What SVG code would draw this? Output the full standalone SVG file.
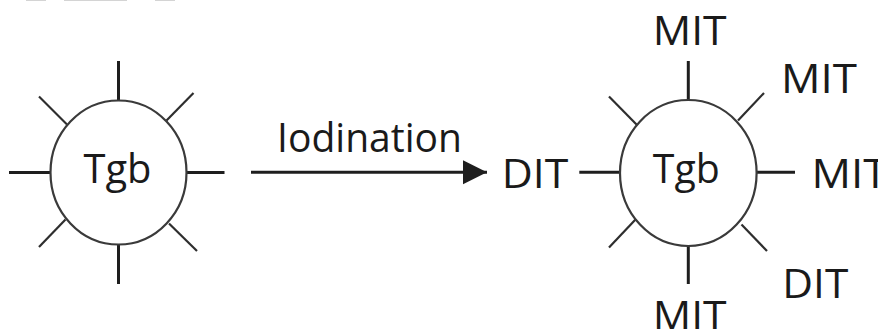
<svg xmlns="http://www.w3.org/2000/svg" width="878" height="329" viewBox="0 0 878 329">
  <style>
    .ring { fill: #ffffff; stroke: #3a3a3a; stroke-width: 2.2; }
    .spoke { stroke: #1e1e1e; stroke-width: 3; stroke-linecap: butt; }
    .diag { stroke: #2e2e2e; stroke-width: 2.2; stroke-linecap: butt; }
    .lbl { font-family: "Open Sans", "Liberation Sans", sans-serif; font-size: 41px; fill: #1a1a1a; }
    .edge { stroke: #1e1e1e; stroke-width: 3; fill: none; }
    .stub { fill: #d4d4d4; }
  </style>
  <defs>
    <marker id="head" markerUnits="userSpaceOnUse" markerWidth="26" markerHeight="26" viewBox="0 0 26 26" refX="24" refY="13" orient="auto">
      <path d="M0,1 L24,13 L0,25 Z" fill="#1e1e1e"/>
    </marker>
  </defs>

  <!-- clipped remnants along the top edge -->
  <rect class="stub" x="26" y="0" width="20" height="1"/>
  <rect class="stub" x="64" y="0" width="63" height="1"/>
  <rect class="stub" x="155" y="0" width="20" height="1"/>

  <!-- thyroglobulin before iodination -->
  <g id="tgb-plain">
    <line class="spoke" x1="118.5" y1="61" x2="118.5" y2="101"/>
    <line class="spoke" x1="118.5" y1="244" x2="118.5" y2="284"/>
    <line class="spoke" x1="9" y1="172.5" x2="51" y2="172.5"/>
    <line class="spoke" x1="186" y1="172.5" x2="224.5" y2="172.5"/>
    <line class="diag" x1="39" y1="96.5" x2="67" y2="124.5"/>
    <line class="diag" x1="166.5" y1="120.5" x2="193.5" y2="93"/>
    <line class="diag" x1="65.5" y1="219.5" x2="39" y2="247"/>
    <line class="diag" x1="169" y1="223.5" x2="197" y2="251"/>
    <ellipse class="ring" cx="118.5" cy="172.5" rx="68" ry="72"/>
    <text class="lbl" x="117.5" y="182.7" text-anchor="middle" font-size="40" textLength="68" lengthAdjust="spacingAndGlyphs">Tgb</text>
  </g>

  <!-- reaction arrow -->
  <g id="connectors">
    <line class="edge" x1="251" y1="172.3" x2="487" y2="172.3" marker-end="url(#head)"/>
  </g>
  <g id="label-iodination">
    <text class="lbl" x="277" y="152.3" textLength="185" lengthAdjust="spacingAndGlyphs">Iodination</text>
  </g>

  <!-- thyroglobulin after iodination -->
  <g id="tgb-iodinated">
    <line class="spoke" x1="688.3" y1="61" x2="688.3" y2="101"/>
    <line class="spoke" x1="688.3" y1="245" x2="688.3" y2="284"/>
    <line class="spoke" x1="579.3" y1="172.3" x2="621" y2="172.3"/>
    <line class="spoke" x1="756" y1="172.3" x2="795" y2="172.3"/>
    <line class="diag" x1="609" y1="96.5" x2="637.5" y2="125.5"/>
    <line class="diag" x1="738" y1="120.5" x2="764" y2="93"/>
    <line class="diag" x1="635.5" y1="219.5" x2="609" y2="247.5"/>
    <line class="diag" x1="741.5" y1="224.5" x2="767" y2="251"/>
    <ellipse class="ring" cx="688.3" cy="173" rx="68.3" ry="73"/>
    <text class="lbl" x="686.3" y="182.7" text-anchor="middle" font-size="40" textLength="67" lengthAdjust="spacingAndGlyphs">Tgb</text>
  </g>

  <!-- residues on the iodinated protein -->
  <g id="residue-top"><text class="lbl" x="652.7" y="45" textLength="74" lengthAdjust="spacingAndGlyphs">MIT</text></g>
  <g id="residue-upper-right"><text class="lbl" x="781" y="92.7" textLength="76" lengthAdjust="spacingAndGlyphs">MIT</text></g>
  <g id="residue-right"><text class="lbl" x="811.5" y="188.3" textLength="76" lengthAdjust="spacingAndGlyphs">MIT</text></g>
  <g id="residue-left"><text class="lbl" x="501.7" y="188.3" textLength="66.6" lengthAdjust="spacingAndGlyphs">DIT</text></g>
  <g id="residue-lower-right"><text class="lbl" x="782.3" y="298" textLength="66" lengthAdjust="spacingAndGlyphs">DIT</text></g>
  <g id="residue-bottom"><text class="lbl" x="652.7" y="329.5" textLength="74" lengthAdjust="spacingAndGlyphs">MIT</text></g>
</svg>
